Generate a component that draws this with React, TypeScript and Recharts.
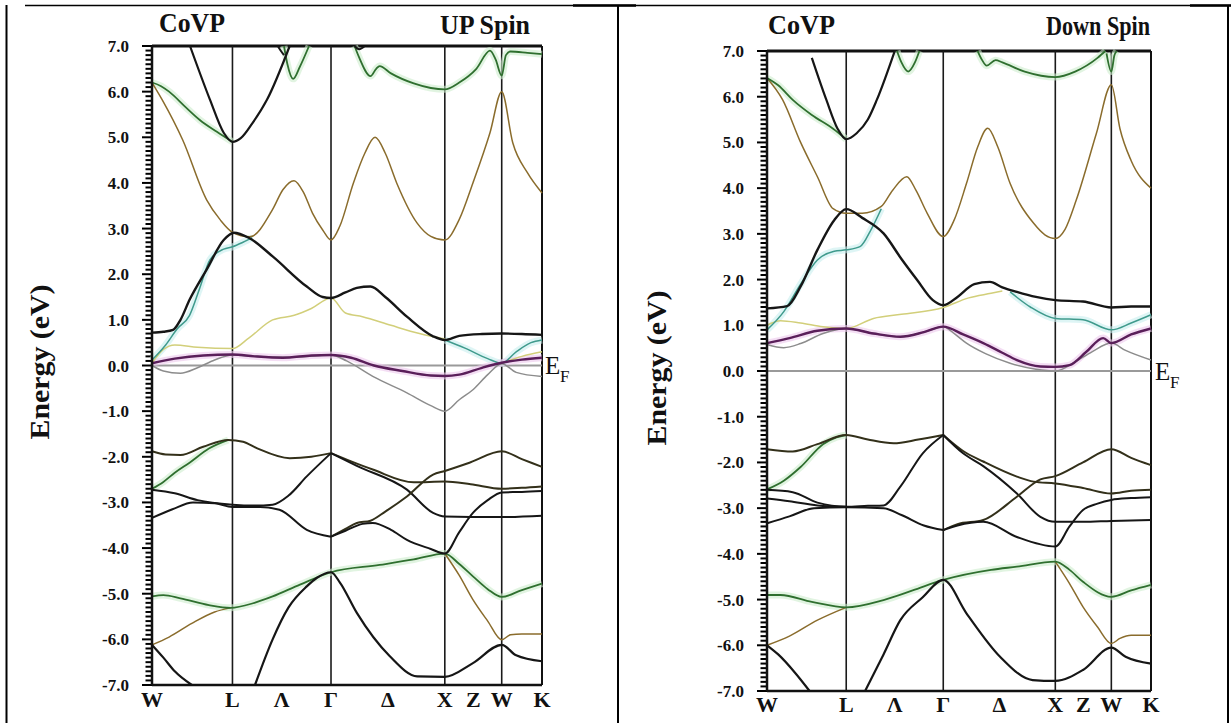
import React from 'react';
import { LineChart, Line, XAxis, YAxis, ReferenceLine } from 'recharts';

// k-path (units of 2pi/a): W - L - Gamma - X - W - K
const kTicks = [0, 0.707, 1.14, 1.573, 2.073, 2.573, 2.823, 3.073, 3.427];
const kLabels = ['W', 'L', 'Λ', 'Γ', 'Δ', 'X', 'Z', 'W', 'K'];
const symPoints = [0.707, 1.573, 2.573, 3.073];
const energyTicks = [-7, -6, -5, -4, -3, -2, -1, 0, 1, 2, 3, 4, 5, 6, 7];

type Pt = [number, number];

// bands that leave the window end on the +-7 eV frame
// ---------- UP spin ----------
const upTopBlack: Pt[] = [[0.334, 7.0], [0.51, 5.82], [0.63, 5.1], [0.707, 4.9], [0.78, 4.98], [0.88, 5.3], [1.01, 5.82], [1.21, 7.0]];
const upTopBlack2: Pt[] = [[1.105, 7.0], [1.13, 6.9], [1.16, 6.8]];
const upTopBlack3: Pt[] = [[1.78, 7.0], [1.82, 6.93], [1.87, 7.0]];
const upGreenTop1: Pt[] = [[0, 6.2], [0.08, 6.12], [0.15, 6.0], [0.3, 5.65], [0.42, 5.38], [0.57, 5.12], [0.707, 4.9]];
const upGreenTop2: Pt[] = [[1.16, 7.0], [1.19, 6.6], [1.24, 6.28], [1.3, 6.55], [1.38, 7.0]];
const upGreenTop3: Pt[] = [[1.78, 7.0], [1.82, 6.75], [1.92, 6.34], [1.97, 6.5], [2.0, 6.56], [2.1, 6.4], [2.3, 6.18], [2.45, 6.08], [2.573, 6.05], [2.7, 6.2], [2.85, 6.5], [2.97, 6.9], [3.02, 6.7], [3.073, 6.35], [3.11, 6.8], [3.15, 6.88], [3.3, 6.85], [3.427, 6.82]];
const upOrange: Pt[] = [[0, 6.2], [0.09, 5.82], [0.27, 4.94], [0.48, 3.63], [0.6, 3.19], [0.707, 2.92], [0.86, 2.82], [1.06, 3.42], [1.15, 3.85], [1.248, 4.05], [1.33, 3.8], [1.41, 3.34], [1.5, 2.97], [1.573, 2.75], [1.65, 3.05], [1.77, 4.0], [1.87, 4.65], [1.96, 5.0], [2.05, 4.65], [2.15, 4.0], [2.33, 3.12], [2.45, 2.83], [2.573, 2.75], [2.7, 3.2], [2.82, 4.0], [2.97, 5.1], [3.073, 6.0], [3.17, 4.88], [3.3, 4.22], [3.427, 3.78]];
const upBlackVal: Pt[] = [[0, 0.72], [0.1, 0.74], [0.185, 0.78], [0.25, 1.0], [0.33, 1.44], [0.48, 2.1], [0.63, 2.75], [0.72, 2.91], [0.85, 2.8], [1.06, 2.39], [1.36, 1.73], [1.5, 1.5], [1.573, 1.48], [1.7, 1.6], [1.8, 1.7], [1.92, 1.73], [2.05, 1.5], [2.24, 1.07], [2.47, 0.64], [2.573, 0.56], [2.7, 0.65], [2.9, 0.69], [3.073, 0.7], [3.25, 0.69], [3.427, 0.67]];
const upCyan1: Pt[] = [[0, 0.12], [0.12, 0.45], [0.22, 0.8], [0.33, 1.1], [0.42, 1.7], [0.51, 2.32], [0.63, 2.55], [0.707, 2.6], [0.8, 2.7], [0.88, 2.8]];
const upCyan2: Pt[] = [[2.573, 0.56], [2.75, 0.38], [2.95, 0.15], [3.073, 0.05], [3.2, 0.3], [3.33, 0.5], [3.427, 0.56]];
const upYellow1: Pt[] = [[0, 0.05], [0.1, 0.35], [0.2, 0.45], [0.4, 0.4], [0.707, 0.37], [0.85, 0.6], [1.06, 1.0], [1.25, 1.1], [1.4, 1.25], [1.573, 1.48], [1.7, 1.15], [1.85, 1.07], [2.1, 0.88], [2.35, 0.7], [2.573, 0.58]];
const upYellow2: Pt[] = [[3.073, 0.05], [3.25, 0.2], [3.427, 0.3]];
const upPurple: Pt[] = [[0, 0.05], [0.2, 0.15], [0.45, 0.22], [0.707, 0.24], [0.9, 0.2], [1.15, 0.17], [1.4, 0.22], [1.573, 0.23], [1.75, 0.17], [1.95, 0.0], [2.2, -0.12], [2.45, -0.22], [2.573, -0.23], [2.7, -0.2], [2.9, -0.05], [3.073, 0.06], [3.25, 0.13], [3.427, 0.17]];
const upGray: Pt[] = [[0, 0.0], [0.1, -0.12], [0.25, -0.17], [0.4, -0.05], [0.55, 0.12], [0.707, 0.23], [0.9, 0.2], [1.2, 0.18], [1.573, 0.23], [1.71, 0.1], [1.94, -0.24], [2.24, -0.6], [2.45, -0.88], [2.573, -1.0], [2.7, -0.75], [2.82, -0.53], [2.95, -0.2], [3.073, 0.04], [3.2, -0.15], [3.427, -0.24]];
const upOliveTop: Pt[] = [[0, -1.88], [0.12, -1.95], [0.25, -1.96], [0.45, -1.78], [0.67, -1.63], [0.8, -1.67], [0.92, -1.81], [1.21, -2.03], [1.4, -2.0], [1.573, -1.92]];
const upOliveRight1: Pt[] = [[1.573, -1.92], [1.75, -2.1], [1.94, -2.28], [2.3, -2.56], [2.573, -2.54], [2.8, -2.6], [3.073, -2.7], [3.25, -2.68], [3.427, -2.65]];
const upOliveRight2: Pt[] = [[1.573, -1.92], [1.8, -2.2], [2.24, -2.72], [2.47, -3.23], [2.573, -3.31], [2.8, -3.32], [3.073, -3.32], [3.427, -3.29]];
const upGreenMid: Pt[] = [[0, -2.7], [0.1, -2.55], [0.2, -2.35], [0.33, -2.13], [0.5, -1.82], [0.67, -1.63]];
const upBlackMid1: Pt[] = [[0, -2.72], [0.2, -2.8], [0.4, -2.95], [0.707, -3.05], [0.9, -3.07], [1.06, -3.05], [1.2, -2.85], [1.36, -2.43], [1.573, -1.92]];
const upBlackMid2: Pt[] = [[0, -3.34], [0.18, -3.15], [0.36, -3.0], [0.55, -3.02], [0.707, -3.1], [0.95, -3.1], [1.12, -3.16], [1.36, -3.6], [1.573, -3.75]];
const upBlackMid3: Pt[] = [[1.573, -3.75], [1.7, -3.58], [1.8, -3.45], [1.92, -3.4], [2.05, -3.2], [2.24, -2.87], [2.47, -2.39], [2.573, -2.31], [2.8, -2.12], [3.073, -1.88], [3.25, -2.05], [3.427, -2.22]];
const upBlackMid4: Pt[] = [[1.573, -3.75], [1.7, -3.62], [1.85, -3.47], [1.94, -3.45], [2.1, -3.6], [2.24, -3.82], [2.45, -4.02], [2.573, -4.12], [2.7, -3.65], [2.82, -3.23], [2.95, -2.95], [3.073, -2.78], [3.25, -2.77], [3.427, -2.75]];
const upGreenLow: Pt[] = [[0, -5.06], [0.1, -5.03], [0.25, -5.1], [0.5, -5.25], [0.69, -5.31], [0.9, -5.2], [1.06, -5.06], [1.3, -4.8], [1.573, -4.53], [2.0, -4.37], [2.3, -4.25], [2.573, -4.12], [2.7, -4.35], [2.82, -4.62], [2.95, -4.9], [3.073, -5.07], [3.25, -4.92], [3.427, -4.78]];
const upOrangeLow1: Pt[] = [[0, -6.12], [0.15, -5.95], [0.35, -5.65], [0.55, -5.4], [0.69, -5.31]];
const upOrangeLow2: Pt[] = [[2.573, -4.12], [2.7, -4.6], [2.82, -5.13], [2.95, -5.6], [3.073, -6.01], [3.15, -5.9], [3.25, -5.88], [3.427, -5.88]];
const upBlackLow1: Pt[] = [[0.905, -7.0], [1.06, -6.0], [1.2, -5.3], [1.36, -4.84], [1.45, -4.65], [1.573, -4.53], [1.65, -4.75], [1.8, -5.42], [2.09, -6.37], [2.33, -6.81], [2.573, -6.82], [2.82, -6.52], [3.073, -6.12], [3.2, -6.35], [3.427, -6.48]];
const upBlackLow2: Pt[] = [[0, -6.12], [0.1, -6.4], [0.2, -6.7], [0.35, -7.0]];

// ---------- DOWN spin ----------
const dnTopBlack: Pt[] = [[0.4, 6.85], [0.53, 5.93], [0.63, 5.3], [0.707, 5.07], [0.8, 5.2], [0.9, 5.5], [0.98, 5.93], [1.14, 7.0]];
const dnGreenTop1: Pt[] = [[0, 6.41], [0.1, 6.25], [0.23, 5.93], [0.4, 5.6], [0.59, 5.3], [0.707, 5.07]];
const dnGreenTop2: Pt[] = [[1.16, 7.0], [1.2, 6.75], [1.26, 6.55], [1.32, 6.75], [1.36, 7.0]];
const dnGreenTop3: Pt[] = [[1.88, 7.0], [1.92, 6.8], [1.96, 6.68], [2.04, 6.8], [2.1, 6.75], [2.3, 6.55], [2.573, 6.43], [2.75, 6.55], [2.95, 6.85], [3.02, 7.0]];
const dnGreenTop4: Pt[] = [[3.03, 6.95], [3.073, 6.55], [3.1, 6.9], [3.12, 7.0]];
const dnOrange: Pt[] = [[0, 6.41], [0.14, 5.93], [0.3, 5.0], [0.45, 4.25], [0.59, 3.55], [0.707, 3.45], [0.85, 3.45], [1.02, 3.6], [1.12, 3.95], [1.247, 4.25], [1.33, 3.95], [1.43, 3.45], [1.573, 2.94], [1.67, 3.3], [1.78, 4.1], [1.88, 4.9], [1.97, 5.31], [2.06, 4.9], [2.17, 4.1], [2.38, 3.23], [2.48, 2.98], [2.573, 2.9], [2.66, 3.1], [2.76, 3.74], [2.94, 5.2], [3.073, 6.26], [3.15, 5.3], [3.25, 4.6], [3.427, 4.0]];
const dnBlackVal: Pt[] = [[0, 1.37], [0.18, 1.42], [0.3, 1.85], [0.45, 2.65], [0.6, 3.3], [0.707, 3.54], [0.85, 3.35], [1.04, 3.01], [1.2, 2.45], [1.34, 1.99], [1.48, 1.55], [1.573, 1.44], [1.7, 1.62], [1.85, 1.9], [1.99, 1.95], [2.1, 1.83], [2.23, 1.73], [2.4, 1.62], [2.573, 1.55], [2.82, 1.52], [3.073, 1.39], [3.25, 1.41], [3.427, 1.41]];
const dnCyan1: Pt[] = [[0, 0.9], [0.15, 1.3], [0.3, 1.9], [0.45, 2.43], [0.6, 2.62], [0.707, 2.65], [0.83, 2.72], [0.93, 3.1], [1.02, 3.55]];
const dnCyan2: Pt[] = [[2.17, 1.73], [2.35, 1.4], [2.573, 1.15], [2.82, 1.12], [3.073, 0.9], [3.25, 1.05], [3.427, 1.23]];
const dnYellow: Pt[] = [[0, 1.0], [0.12, 1.1], [0.3, 1.05], [0.5, 0.97], [0.707, 0.93], [0.95, 1.15], [1.2, 1.24], [1.573, 1.39], [1.8, 1.6], [2.0, 1.7], [2.1, 1.75]];
const dnPurple: Pt[] = [[0, 0.61], [0.2, 0.72], [0.45, 0.88], [0.707, 0.93], [0.95, 0.82], [1.19, 0.75], [1.4, 0.85], [1.573, 0.97], [1.75, 0.8], [1.93, 0.61], [2.1, 0.4], [2.23, 0.24], [2.44, 0.1], [2.573, 0.09], [2.7, 0.13], [2.85, 0.42], [3.0, 0.72], [3.073, 0.61], [3.25, 0.8], [3.427, 0.93]];
const dnGray: Pt[] = [[0, 0.58], [0.15, 0.51], [0.3, 0.6], [0.5, 0.82], [0.707, 0.93], [0.95, 0.82], [1.19, 0.75], [1.4, 0.85], [1.573, 0.97], [1.68, 0.8], [1.78, 0.61], [1.95, 0.38], [2.17, 0.17], [2.4, 0.04], [2.573, 0.0], [2.75, 0.2], [2.9, 0.42], [3.073, 0.61], [3.2, 0.45], [3.427, 0.24]];
const dnOliveTop: Pt[] = [[0, -1.71], [0.23, -1.76], [0.45, -1.6], [0.707, -1.4], [0.9, -1.5], [1.13, -1.58], [1.35, -1.5], [1.573, -1.4]];
const dnOliveRight1: Pt[] = [[1.573, -1.4], [1.75, -1.75], [1.93, -1.98], [2.23, -2.31], [2.38, -2.42], [2.573, -2.46], [2.82, -2.56], [3.073, -2.68], [3.25, -2.62], [3.427, -2.6]];
const dnOliveRight2: Pt[] = [[1.573, -1.4], [1.75, -1.8], [1.93, -2.08], [2.23, -2.68], [2.44, -3.19], [2.573, -3.3], [2.82, -3.3], [3.073, -3.28], [3.427, -3.26]];
const dnGreenMid: Pt[] = [[0, -2.59], [0.15, -2.4], [0.3, -2.1], [0.5, -1.6], [0.62, -1.45], [0.707, -1.4]];
const dnBlackMid1: Pt[] = [[0, -2.6], [0.23, -2.65], [0.45, -2.88], [0.707, -2.97], [0.9, -2.95], [1.04, -2.94], [1.19, -2.53], [1.39, -1.8], [1.573, -1.4]];
const dnBlackMid2: Pt[] = [[0, -2.79], [0.2, -2.85], [0.45, -2.94], [0.707, -2.97]];
const dnBlackMid3: Pt[] = [[0, -3.33], [0.2, -3.18], [0.42, -3.0], [0.707, -2.98], [1.04, -3.0], [1.2, -3.15], [1.4, -3.38], [1.573, -3.48]];
const dnBlackMid4: Pt[] = [[1.573, -3.48], [1.7, -3.35], [1.93, -3.26], [2.23, -2.75], [2.44, -2.37], [2.573, -2.3], [2.82, -2.0], [3.073, -1.71], [3.25, -1.9], [3.427, -2.06]];
const dnBlackMid5: Pt[] = [[1.573, -3.48], [1.7, -3.38], [1.93, -3.3], [2.23, -3.63], [2.573, -3.84], [2.7, -3.4], [2.82, -3.04], [2.95, -2.9], [3.073, -2.82], [3.25, -2.78], [3.427, -2.76]];
const dnGreenLow: Pt[] = [[0, -4.9], [0.12, -4.9], [0.4, -5.05], [0.707, -5.17], [1.04, -5.01], [1.3, -4.8], [1.573, -4.57], [2.0, -4.35], [2.23, -4.28], [2.573, -4.17], [2.7, -4.35], [2.82, -4.61], [3.073, -4.94], [3.25, -4.8], [3.427, -4.68]];
const dnOrangeLow1: Pt[] = [[0, -6.0], [0.2, -5.8], [0.45, -5.45], [0.707, -5.17]];
const dnOrangeLow2: Pt[] = [[2.573, -4.17], [2.7, -4.65], [2.82, -5.16], [2.95, -5.6], [3.073, -5.96], [3.15, -5.85], [3.25, -5.78], [3.427, -5.78]];
const dnBlackLow1: Pt[] = [[0.875, -7.0], [1.04, -6.2], [1.19, -5.45], [1.39, -4.95], [1.573, -4.57], [1.78, -5.3], [2.08, -6.25], [2.37, -6.76], [2.573, -6.78], [2.82, -6.54], [3.073, -6.05], [3.2, -6.25], [3.427, -6.4]];
const dnBlackLow2: Pt[] = [[0, -6.0], [0.1, -6.2], [0.25, -6.6], [0.38, -7.0]];

const BLACK = '#161616';
const GREEN = '#2f6f2f';
const ORANGE = '#8a6c2c';
const OLIVE = '#33301a';
const CYAN = '#3f9a8c';
const YELLOW = '#d2cf7a';
const PURPLE = '#5a1f5a';
const GRAY = '#8c8c8c';

type Band = { pts: Pt[]; color: string; w: number; halo?: string };

const upBands: Band[] = [
  { pts: upYellow1, color: YELLOW, w: 1.5 },
  { pts: upYellow2, color: YELLOW, w: 1.5 },
  { pts: upCyan1, color: CYAN, w: 1.5, halo: '#c8efee' },
  { pts: upCyan2, color: CYAN, w: 1.5, halo: '#c8efee' },
  { pts: upGray, color: GRAY, w: 1.5 },
  { pts: upOrange, color: ORANGE, w: 1.5 },
  { pts: upOrangeLow1, color: ORANGE, w: 1.5 },
  { pts: upOrangeLow2, color: ORANGE, w: 1.5 },
  { pts: upGreenTop1, color: GREEN, w: 1.8, halo: '#cdeccd' },
  { pts: upGreenTop2, color: GREEN, w: 1.8, halo: '#cdeccd' },
  { pts: upGreenTop3, color: GREEN, w: 1.8, halo: '#cdeccd' },
  { pts: upGreenMid, color: GREEN, w: 1.8, halo: '#cdeccd' },
  { pts: upGreenLow, color: GREEN, w: 1.8, halo: '#cdeccd' },
  { pts: upPurple, color: PURPLE, w: 2.4, halo: '#ecc8ec' },
  { pts: upOliveTop, color: OLIVE, w: 2 },
  { pts: upOliveRight1, color: OLIVE, w: 2 },
  { pts: upOliveRight2, color: BLACK, w: 2 },
  { pts: upBlackMid1, color: BLACK, w: 2 },
  { pts: upBlackMid2, color: BLACK, w: 2 },
  { pts: upBlackMid3, color: OLIVE, w: 2 },
  { pts: upBlackMid4, color: BLACK, w: 2 },
  { pts: upBlackLow1, color: BLACK, w: 2.2 },
  { pts: upBlackLow2, color: BLACK, w: 2.2 },
  { pts: upBlackVal, color: BLACK, w: 2.4 },
  { pts: upTopBlack, color: BLACK, w: 2.2 },
  { pts: upTopBlack2, color: BLACK, w: 2 },
  { pts: upTopBlack3, color: BLACK, w: 2 },
];

const dnBands: Band[] = [
  { pts: dnYellow, color: YELLOW, w: 1.5 },
  { pts: dnCyan1, color: CYAN, w: 1.5, halo: '#c8efee' },
  { pts: dnCyan2, color: CYAN, w: 1.5, halo: '#c8efee' },
  { pts: dnGray, color: GRAY, w: 1.5 },
  { pts: dnOrange, color: ORANGE, w: 1.5 },
  { pts: dnOrangeLow1, color: ORANGE, w: 1.5 },
  { pts: dnOrangeLow2, color: ORANGE, w: 1.5 },
  { pts: dnGreenTop1, color: GREEN, w: 1.8, halo: '#cdeccd' },
  { pts: dnGreenTop2, color: GREEN, w: 1.8, halo: '#cdeccd' },
  { pts: dnGreenTop3, color: GREEN, w: 1.8, halo: '#cdeccd' },
  { pts: dnGreenTop4, color: GREEN, w: 1.8, halo: '#cdeccd' },
  { pts: dnGreenMid, color: GREEN, w: 1.8, halo: '#cdeccd' },
  { pts: dnGreenLow, color: GREEN, w: 1.8, halo: '#cdeccd' },
  { pts: dnPurple, color: PURPLE, w: 2.4, halo: '#ecc8ec' },
  { pts: dnOliveTop, color: OLIVE, w: 2 },
  { pts: dnOliveRight1, color: OLIVE, w: 2 },
  { pts: dnOliveRight2, color: BLACK, w: 2 },
  { pts: dnBlackMid1, color: BLACK, w: 2 },
  { pts: dnBlackMid2, color: BLACK, w: 2 },
  { pts: dnBlackMid3, color: BLACK, w: 2 },
  { pts: dnBlackMid4, color: OLIVE, w: 2 },
  { pts: dnBlackMid5, color: BLACK, w: 2 },
  { pts: dnBlackLow1, color: BLACK, w: 2.2 },
  { pts: dnBlackLow2, color: BLACK, w: 2.2 },
  { pts: dnBlackVal, color: BLACK, w: 2.4 },
  { pts: dnTopBlack, color: BLACK, w: 2.2 },
];

const SERIF = '"Liberation Serif", "Times New Roman", serif';
const K_MAX = 3.427;

// 0.1 eV minor ticks between the labelled ones
const minorTicks: number[] = [];
for (let i = energyTicks[0] * 10; i <= energyTicks[energyTicks.length - 1] * 10; i++) minorTicks.push(i / 10);

const toRows = (pts: Pt[]) => pts.map(([k, e]) => ({ k, e }));

const YTick = (props: any) => {
  const { x, y, payload } = props;
  const v = payload.value as number;
  if (!energyTicks.includes(v)) return <g />;
  return (
    <text x={x - 15} y={y} dy={6} textAnchor="end" fontFamily={SERIF} fontWeight="bold" fontSize={17} fill="#111">
      {v.toFixed(1)}
    </text>
  );
};

const makeXTick = (dy: number) => (props: any) => {
  const { x, y, payload } = props;
  const label = kLabels[kTicks.indexOf(payload.value)];
  return (
    <text x={x} y={y + dy} textAnchor="middle" fontFamily={SERIF} fontWeight="bold" fontSize={22} fill="#111">
      {label}
    </text>
  );
};

// pxPerK: plot width / K_MAX, used to give the outside ladder ticks a pixel length
function BandPanel({ bands, width, margin, labelDy, pxPerK }: { bands: Band[]; width: number; margin: any; labelDy: number; pxPerK: number }) {
  return (
    <LineChart width={width} height={723} margin={margin}>
      <XAxis
        dataKey="k"
        type="number"
        domain={[0, K_MAX]}
        ticks={kTicks}
        interval={0}
        tickSize={0}
        tickMargin={0}
        height={30}
        axisLine={{ stroke: '#111', strokeWidth: 2.5 }}
        tick={makeXTick(labelDy)}
      />
      <YAxis
        type="number"
        domain={[-7, 7]}
        ticks={minorTicks}
        interval={0}
        tickSize={6}
        width={60}
        tickLine={false}
        axisLine={{ stroke: '#111', strokeWidth: 2.5 }}
        tick={<YTick />}
      />
      {minorTicks.map((v) => (
        <ReferenceLine
          key={'t' + v}
          ifOverflow="visible"
          segment={[{ x: -(energyTicks.includes(v) ? 10 : 6.5) / pxPerK, y: v }, { x: 0, y: v }]}
          stroke="#000"
          strokeWidth={2}
        />
      ))}
      <ReferenceLine y={7} stroke="#111" strokeWidth={3} />
      <ReferenceLine x={K_MAX} stroke="#111" strokeWidth={2} />
      {symPoints.map((k) => (
        <ReferenceLine key={k} x={k} stroke="#1a1a1a" strokeWidth={1.6} />
      ))}
      <ReferenceLine y={0} stroke="#9a9a9a" strokeWidth={2.2} />
      {bands.filter((b) => b.halo).map((b, i) => (
        <Line
          key={'h' + i}
          data={toRows(b.pts)}
          dataKey="e"
          type="monotone"
          stroke={b.halo}
          strokeWidth={7}
          strokeOpacity={0.6}
          dot={false}
          activeDot={false}
          isAnimationActive={false}
        />
      ))}
      {bands.map((b, i) => (
        <Line
          key={'b' + i}
          data={toRows(b.pts)}
          dataKey="e"
          type="monotone"
          stroke={b.color}
          strokeWidth={b.w}
          dot={false}
          activeDot={false}
          isAnimationActive={false}
        />
      ))}
    </LineChart>
  );
}

export default function App() {
  const txt = { fontFamily: SERIF, fontWeight: 'bold' as const, fill: '#111' };
  const fit = { lengthAdjust: 'spacingAndGlyphs' as const };
  return (
    <div style={{ position: 'absolute', left: 0, top: 0, width: 1231, height: 723, background: '#fff', overflow: 'hidden' }}>
      <div style={{ position: 'absolute', left: 0, top: 0 }}>
        <BandPanel bands={upBands} width={620} margin={{ top: 46, right: 78, bottom: 8, left: 92 }} labelDy={22} pxPerK={390 / K_MAX} />
      </div>
      <div style={{ position: 'absolute', left: 620, top: 0 }}>
        <BandPanel bands={dnBands} width={611} margin={{ top: 51, right: 80, bottom: 2, left: 87 }} labelDy={21} pxPerK={384 / K_MAX} />
      </div>
      <svg width={1231} height={723} style={{ position: 'absolute', left: 0, top: 0, pointerEvents: 'none' }}>
        {/* table borders */}
        <line x1={6.5} y1={5} x2={6.5} y2={723} stroke="#000" strokeWidth={2} />
        <line x1={618} y1={5} x2={618} y2={723} stroke="#000" strokeWidth={2} />
        <line x1={1228} y1={5} x2={1228} y2={723} stroke="#000" strokeWidth={2} />
        <line x1={25} y1={5.5} x2={1231} y2={5.5} stroke="#000" strokeWidth={1.3} />
        <line x1={573} y1={5.5} x2={636} y2={5.5} stroke="#000" strokeWidth={2.5} />
        <line x1={1190} y1={5.5} x2={1231} y2={5.5} stroke="#000" strokeWidth={2.5} />

        <text x={159} y={32} fontSize={27} textLength={66} {...fit} {...txt}>CoVP</text>
        <text x={440} y={34} fontSize={27} textLength={90} {...fit} {...txt}>UP Spin</text>
        <text x={768} y={34} fontSize={27} textLength={67} {...fit} {...txt}>CoVP</text>
        <text x={1046} y={35} fontSize={27} textLength={104} {...fit} {...txt}>Down Spin</text>

        <text transform="translate(40,362) rotate(-90)" textAnchor="middle" dominantBaseline="central" fontSize={27} textLength={155} {...fit} {...txt}>Energy (eV)</text>
        <text transform="translate(657,368) rotate(-90)" textAnchor="middle" dominantBaseline="central" fontSize={27} textLength={155} {...fit} {...txt}>Energy (eV)</text>

        <text x={545} y={374} fontFamily={SERIF} fontSize={25} fill="#111">E</text>
        <text x={560} y={382} fontFamily={SERIF} fontSize={17} fill="#111">F</text>
        <text x={1155} y={380} fontFamily={SERIF} fontSize={25} fill="#111">E</text>
        <text x={1170} y={388} fontFamily={SERIF} fontSize={17} fill="#111">F</text>
      </svg>
    </div>
  );
}
